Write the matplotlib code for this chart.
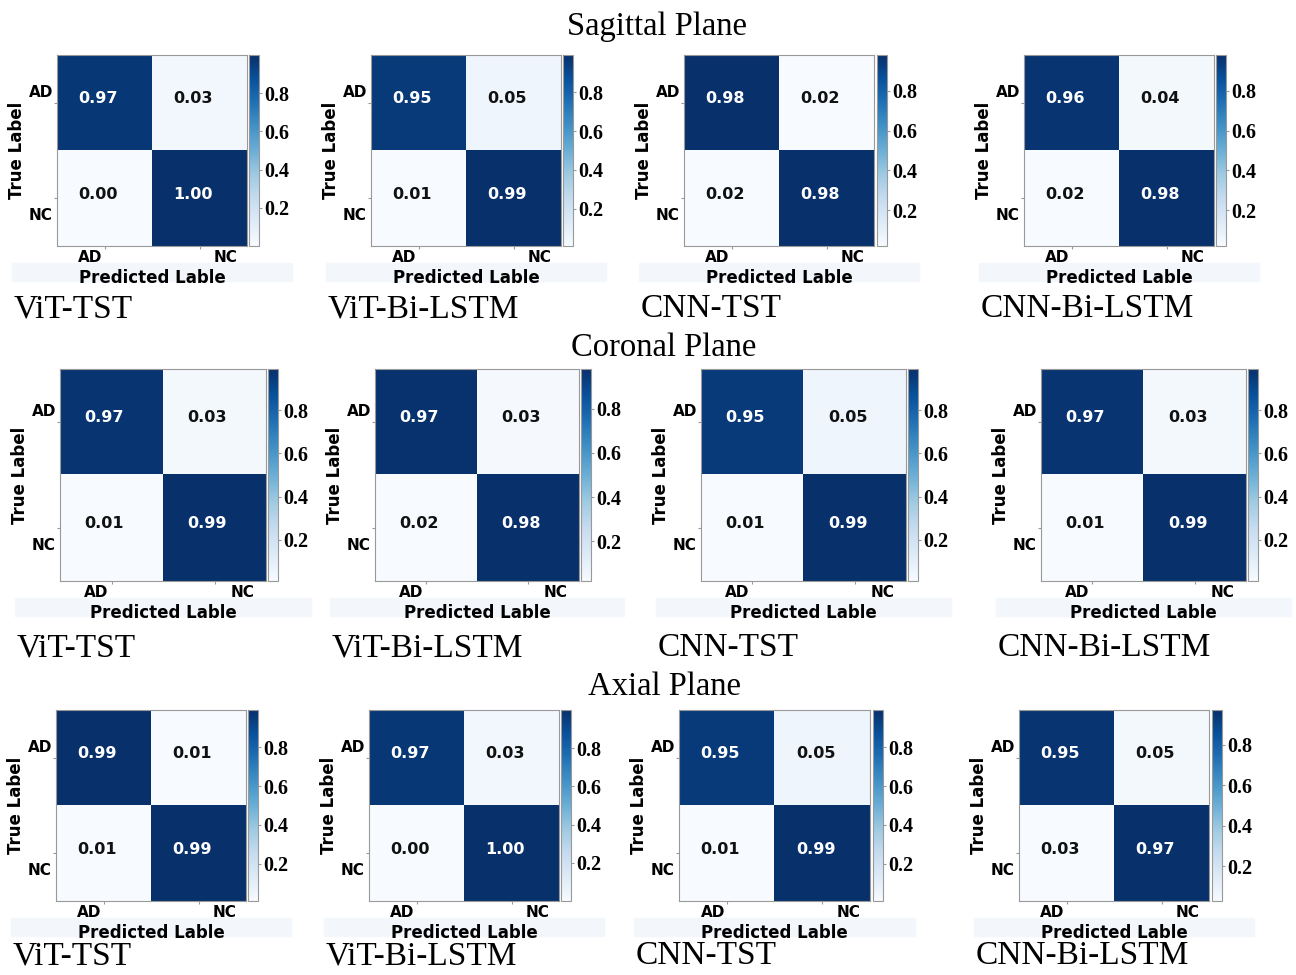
import matplotlib
matplotlib.use("Agg")
import matplotlib.pyplot as plt
import matplotlib.transforms as mtransforms
from matplotlib.patches import Rectangle

W, H = 1296, 975

planes = ["Sagittal Plane", "Coronal Plane", "Axial Plane"]
models = ["ViT-TST", "ViT-Bi-LSTM", "CNN-TST", "CNN-Bi-LSTM"]
classes = ["AD", "NC"]

sagittal = [
    [[0.97, 0.03], [0.00, 1.00]],
    [[0.95, 0.05], [0.01, 0.99]],
    [[0.98, 0.02], [0.02, 0.98]],
    [[0.96, 0.04], [0.02, 0.98]],
]
coronal = [
    [[0.97, 0.03], [0.01, 0.99]],
    [[0.97, 0.03], [0.02, 0.98]],
    [[0.95, 0.05], [0.01, 0.99]],
    [[0.97, 0.03], [0.01, 0.99]],
]
axial = [
    [[0.99, 0.01], [0.01, 0.99]],
    [[0.97, 0.03], [0.00, 1.00]],
    [[0.95, 0.05], [0.01, 0.99]],
    [[0.95, 0.05], [0.03, 0.97]],
]
plane_data = [sagittal, coronal, axial]

# layout in reference pixels: (matrix left, matrix right, colorbar left)
row_boxes = [
    [(57, 247, 249), (371, 561, 563), (684, 874, 877), (1024, 1214, 1216)],
    [(60, 266, 268), (375, 579, 581), (701, 906, 908), (1041, 1246, 1248)],
    [(56, 246, 248), (369, 559, 561), (679, 870, 873), (1019, 1209, 1212)],
]
row_y = [(55, 246), (369, 581), (710, 901)]
title_y = [27, 348, 687]
title_x = [657, 664, 665]
name_y = [309, 648, 956]
cbar_w = 10

fig = plt.figure(figsize=(W / 100, H / 100), dpi=100)


def frac(x0, y0, x1, y1):
    return [x0 / W, 1 - y1 / H, (x1 - x0) / W, (y1 - y0) / H]


def shift(lab, dx, dy):
    lab.set_transform(lab.get_transform() + mtransforms.ScaledTranslation(dx / 100, dy / 100, fig.dpi_scale_trans))


serif = "Liberation Serif"
for r in range(3):
    fig.text(title_x[r] / W, 1 - title_y[r] / H, planes[r], ha="center", va="center",
             fontsize=23.5, family=serif)
    y0, y1 = row_y[r]
    for c in range(4):
        m = plane_data[r][c]
        mx0, mx1, cx0 = row_boxes[r][c]
        # faint band behind the x label
        fig.patches.append(Rectangle(((mx0 - 45) / W, 1 - (y1 + 35) / H), (mx1 - mx0 + 90) / W, 18 / H,
                                     transform=fig.transFigure, color="#f3f7fc", zorder=-1))
        ax = fig.add_axes(frac(mx0, y0, mx1, y1))
        vals = [v for row in m for v in row]
        im = ax.imshow(m, cmap="Blues", vmin=min(vals), vmax=max(vals), aspect="auto")
        for i in range(2):
            for j in range(2):
                v = m[i][j]
                ax.text(j - 0.07, i - 0.04, f"{v:.2f}", ha="center", va="center", fontsize=11.5,
                        fontweight="bold", color="white" if v > 0.5 else "#111111")
        ax.set_xticks([0, 1])
        ax.set_yticks([0, 1])
        ax.set_xticklabels(classes, fontsize=11, fontweight="bold")
        ax.set_yticklabels(classes, fontsize=11, fontweight="bold")
        ax.tick_params(length=2, pad=1, color="#999999")
        scale = (mx1 - mx0) / 190
        for lab, dx in zip(ax.get_xticklabels(), [-14 * scale, 26 * scale]):
            shift(lab, dx, 0)
        for lab, dy in zip(ax.get_yticklabels(), [12, -16]):
            shift(lab, 0, dy)
        ax.set_xlabel("Predicted Lable", fontsize=12, fontweight="bold", labelpad=3)
        ax.set_ylabel("True Label", fontsize=12, fontweight="bold", labelpad=2)
        for s in ax.spines.values():
            s.set_color("#999999")
            s.set_linewidth(0.8)

        cax = fig.add_axes(frac(cx0, y0, cx0 + cbar_w, y1))
        cb = fig.colorbar(im, cax=cax, ticks=[0.2, 0.4, 0.6, 0.8])
        cb.outline.set_edgecolor("#999999")
        cb.outline.set_linewidth(0.8)
        cax.tick_params(length=2, pad=2, color="#999999")
        for lab in cax.get_yticklabels():
            lab.set_family(serif)
            lab.set_fontweight("bold")
            lab.set_fontsize(14.5)

        fig.text((mx0 - 43) / W, 1 - name_y[r] / H, models[c], ha="left", va="center",
                 fontsize=24, family=serif)

fig.savefig("out.png", dpi=100)
